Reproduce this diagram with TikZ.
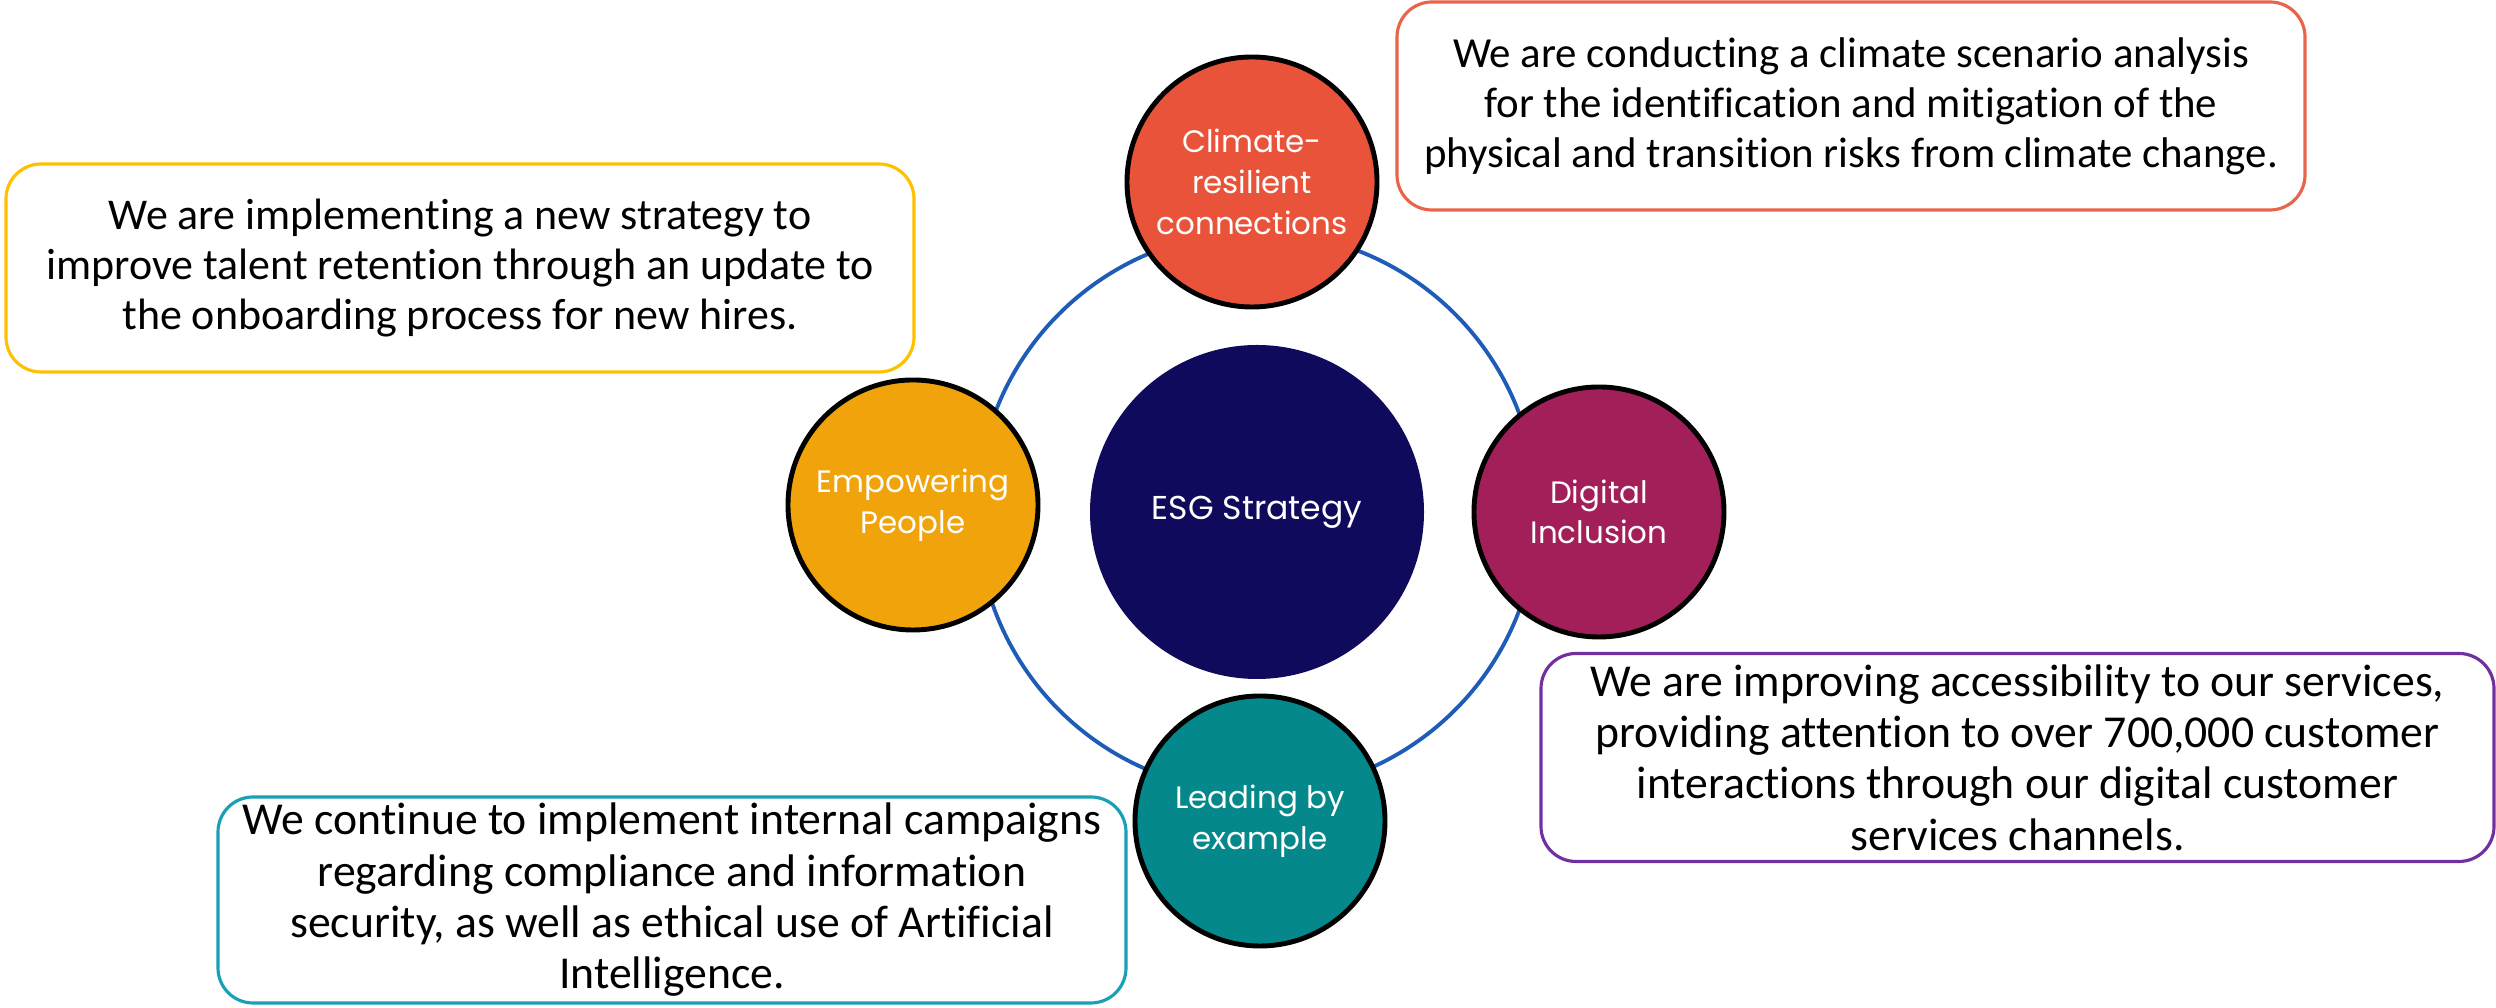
\documentclass[tikz,border=0pt]{standalone}
\usepackage{fontspec}
\setmainfont{Carlito}[Ligatures={NoCommon,NoRare}]
\newfontfamily\poppins{Poppins}

\definecolor{esgnavy}{HTML}{0F0A5C}
\definecolor{climred}{HTML}{E9533A}
\definecolor{peoplegold}{HTML}{F0A30A}
\definecolor{digiberry}{HTML}{A31F5A}
\definecolor{leadteal}{HTML}{05888B}
\definecolor{ringblue}{HTML}{1F5CB8}
\definecolor{noteorange}{HTML}{E8654A}
\definecolor{noteyellow}{HTML}{FFC000}
\definecolor{notepurple}{HTML}{7030A0}
\definecolor{noteteal}{HTML}{1AA0B6}

\begin{document}
\begin{tikzpicture}[
    pillar/.style={circle, draw=black, line width=1.4pt, text=white, align=center,
        inner sep=0pt, minimum size=2.5cm, font=\poppins\fontsize{8.8}{11.6}\selectfont},
    note/.style={draw, rounded corners=0.35cm, line width=0.9pt, fill=white, align=center,
        inner sep=0pt, minimum width=9.08cm, minimum height=2.08cm,
        font=\fontsize{12.5}{14.2}\selectfont},
    ring/.style={draw=ringblue, line width=1.1pt}
]
    \useasboundingbox (0,0) rectangle (24.96,10.08);

    % Core
    \node[circle, fill=esgnavy, text=white, minimum size=3.34cm, inner sep=0pt,
        font=\poppins\fontsize{9.4}{11.6}\selectfont] (esg) at (12.57,4.96) {ESG Strategy};
    \draw[ring] (esg) circle (2.8);

    % Pillars
    \node[pillar, fill=climred] (climate) at (12.52,8.26) {Climate-\\resilient\\connections};
    \node[pillar, fill=peoplegold] (people) at (9.13,5.03) {Empowering\\People};
    \node[pillar, fill=digiberry] (digital) at (15.99,4.96) {Digital\\Inclusion};
    \node[pillar, fill=leadteal] (leading) at (12.60,1.87) {Leading by\\example};

    % Notes
    \node[note, draw=noteorange, font=\fontsize{12.2}{14.2}\selectfont] (climatenote) at (18.51,9.02)
        {We are conducting a climate scenario analysis\\for the identification and mitigation of the\\physical and transition risks from climate change.};
    \node[note, draw=noteyellow] (peoplenote) at (4.60,7.40)
        {We are implementing a new strategy to\\improve talent retention through an update to\\the onboarding process for new hires.};
    \node[note, draw=notepurple, minimum width=9.53cm, font=\fontsize{13}{14.6}\selectfont] (digitalnote) at (20.175,2.505)
        {We are improving accessibility to our services,\\providing attention to over 700,000 customer\\interactions through our digital customer\\services channels.};
    \node[note, draw=noteteal, minimum height=2.06cm, font=\fontsize{13}{14.6}\selectfont] (leadingnote) at (6.72,1.08)
        {We continue to implement internal campaigns\\regarding compliance and information\\security, as well as ethical use of Artificial\\Intelligence.};
\end{tikzpicture}
\end{document}
